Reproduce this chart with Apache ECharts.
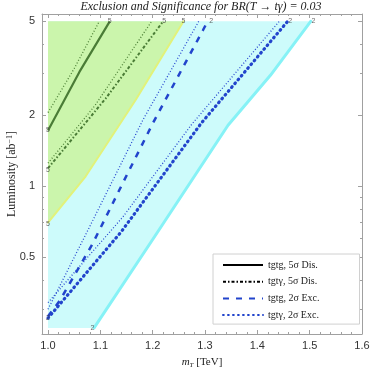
<!DOCTYPE html>
<html>
<head>
<meta charset="utf-8">
<script src="https://cdn.jsdelivr.net/npm/echarts@6/dist/echarts.min.js"></script>
<style>html,body{margin:0;padding:0;background:#fff}#main{width:374px;height:374px}</style>
</head>
<body>
<div id="main"></div>
<script>
// contour curves, [mT (TeV), luminosity (ab^-1)]
const tgtgDis = [[1.0,1.72],[1.06,3.05],[1.118,5.0]];
const tgtgDisDot = [[1.0,2.05],[1.05,3.15],[1.098,5.0]];
const tgtyDis = [[1.0,1.19],[1.11,2.35],[1.22,5.0]];
const tgtyDisDot = [[1.0,1.25],[1.09,2.2],[1.198,5.0]];
const greenEdge = [[1.0,0.70],[1.072,1.10],[1.168,2.33],[1.259,5.0]];
const tgtgExc = [[1.0,0.28],[1.022,0.325],[1.085,0.568],[1.143,1.03],[1.201,1.86],[1.296,4.58],[1.305,5.0]];
const tgtgExcDot = [[1.0,0.30],[1.076,0.648],[1.137,1.21],[1.182,1.92],[1.288,5.0]];
const tgtyExc = [[1.0,0.275],[1.14,0.64],[1.293,1.85],[1.458,5.0]];
const tgtyExcDot = [[1.0,0.32],[1.143,0.739],[1.274,1.82],[1.442,5.0]];
const cyanEdge = [[1.088,0.25],[1.2,0.593],[1.344,1.81],[1.425,2.95],[1.502,5.0]];
const lumTop = 5.0, lumBottom = 0.25, mLeft = 1.0;
// contour level labels [mT, lum, text]
const contourLabels = [
  [1.0,1.72,'5'],[1.118,5.0,'5'],
  [1.0,1.17,'5'],[1.222,5.0,'5'],
  [1.0,0.69,'5'],[1.259,5.0,'5'],
  [1.312,5.0,'2'],[1.463,5.0,'2'],[1.507,5.0,'2'],
  [1.0,0.275,'2'],[1.085,0.25,'2']
];
const xMajor = [1.0,1.1,1.2,1.3,1.4,1.5,1.6];
const xMinor = [1.02,1.04,1.06,1.08,1.12,1.14,1.16,1.18,1.22,1.24,1.26,1.28,1.32,1.34,1.36,1.38,1.42,1.44,1.46,1.48,1.52,1.54,1.56,1.58];
const yMajor = [0.5,1,2,5];
const yMinor = [0.3,0.4,0.6,0.7,0.8,0.9,3,4];
const legendNames = ['tgtg, 5σ Dis.','tgtγ, 5σ Dis.','tgtg, 2σ Exc.','tgtγ, 2σ Exc.'];

const lg = v => Math.log10(v);
const toXY = arr => arr.map(p => [p[0], lg(p[1])]);

const frame = '#a0a0a0';
const labelFont = {color:'#333', fontFamily:'Liberation Sans', fontSize:11};

function xAx(pos, ticks, len, showLine, showLabel) {
  return {
    type:'value', position:pos, min:0.9885, max:1.6,
    axisLine:{show:showLine, onZero:false, lineStyle:{color:frame}},
    axisTick:{show:true, inside:true, length:len, customValues:ticks, lineStyle:{color:frame}},
    axisLabel:{show:showLabel, customValues:xMajor, formatter:v => v.toFixed(1), margin:6, ...labelFont},
    splitLine:{show:false}
  };
}
function yAx(pos, ticks, len, showLine, showLabel) {
  return {
    type:'value', position:pos, min:-0.628, max:0.73,
    axisLine:{show:showLine, onZero:false, lineStyle:{color:frame}},
    axisTick:{show:true, inside:true, length:len, customValues:ticks.map(lg), lineStyle:{color:frame}},
    axisLabel:{show:showLabel, customValues:yMajor.map(lg), formatter:v => String(+Math.pow(10,v).toPrecision(2)), margin:7, ...labelFont},
    splitLine:{show:false}
  };
}

function region(pts, color) {
  return {
    type:'custom', silent:true, z:1, data:[[0,0]],
    renderItem:(params, api) => ({
      type:'polygon',
      shape:{points: pts.map(p => api.coord([p[0], lg(p[1])]))},
      style:{fill:color}
    })
  };
}
function curve(name, data, color, width, type, cap, z) {
  return {
    name, type:'line', data:toXY(data), symbol:'none', symbolSize:0, smooth:false,
    itemStyle:{color}, lineStyle:{color, width, type, cap:cap || 'butt'}, z:z || 3, silent:true
  };
}

const cyanPoly = [[mLeft,lumBottom]].concat(cyanEdge, [[mLeft,lumTop]]);
const greenPoly = greenEdge.concat([[mLeft,lumTop]]);

const chart = echarts.init(document.getElementById('main'));
chart.setOption({
  animation:false,
  title:{text:'Exclusion and Significance for BR(T → tγ) = 0.03', left:201, top:1, padding:0, textAlign:'center',
    textStyle:{fontFamily:'Liberation Serif', fontStyle:'italic', fontWeight:'normal', fontSize:12, color:'#222'}},
  grid:{left:42, right:12, top:14, bottom:40, outerBoundsMode:'none', containLabel:false},
  xAxis:[
    Object.assign(xAx('bottom', xMajor, 4, true, true), {
      name:'{i|m}{s|T} [TeV]', nameLocation:'middle', nameGap:22, nameMoveOverlap:false,
      nameTextStyle:{fontFamily:'Liberation Serif', fontSize:11, color:'#222',
        rich:{i:{fontFamily:'Liberation Serif', fontStyle:'italic', fontSize:11, color:'#222'},
              s:{fontFamily:'Liberation Serif', fontStyle:'italic', fontSize:7, color:'#222', verticalAlign:'bottom', padding:[6,0,0,0]}}}
    }),
    xAx('bottom', xMinor, 2, false, false),
    xAx('top', xMajor, 4, true, false),
    xAx('top', xMinor, 2, false, false)
  ],
  yAxis:[
    Object.assign(yAx('left', yMajor, 4, true, true), {
      name:'Luminosity [ab{p|−1}]', nameLocation:'middle', nameGap:24, nameMoveOverlap:false,
      nameTextStyle:{fontFamily:'Liberation Serif', fontSize:12, color:'#222',
        rich:{p:{fontFamily:'Liberation Serif', fontSize:8, color:'#222', verticalAlign:'top'}}}
    }),
    yAx('left', yMinor, 2, false, false),
    yAx('right', yMajor, 4, true, false),
    yAx('right', yMinor, 2, false, false)
  ],
  legend:{
    data:[
      {name:legendNames[0], lineStyle:{color:'#000'}},
      {name:legendNames[1], lineStyle:{color:'#000'}},
      {name:legendNames[2]},
      {name:legendNames[3]}
    ],
    orient:'vertical', left:213, top:254, itemWidth:40, itemHeight:8, itemGap:6.7,
    padding:[6,40,4,9], backgroundColor:'#fff', borderColor:'#d0d0d0', borderWidth:1, borderRadius:0,
    itemStyle:{opacity:0},
    textStyle:{fontFamily:'Liberation Serif', fontSize:10, color:'#222'}
  },
  series:[
    region(cyanPoly, '#cdfbfb'),
    region(greenPoly, '#cbf5ac'),
    curve('cyanEdge', cyanEdge, '#86f2f6', 3, 'solid', 'round', 2),
    curve('greenEdge', greenEdge, '#e2f27a', 2, 'solid', 'round', 2),
    curve('tgtgDisDot', tgtgDisDot, '#4f8238', 1.3, [1,2]),
    curve(legendNames[0], tgtgDis, '#4a7c36', 2.2, 'solid'),
    curve('tgtyDisDot', tgtyDisDot, '#4f8238', 1.3, [1,2]),
    curve(legendNames[1], tgtyDis, '#4a7c36', 2, [3,2,1.5,2]),
    curve('tgtgExcDot', tgtgExcDot, '#2a48d0', 1.3, [1,2]),
    curve(legendNames[2], tgtgExc, '#2244cc', 2.5, [6,7]),
    curve('tgtyExcDot', tgtyExcDot, '#2a48d0', 1.3, [1,2]),
    curve(legendNames[3], tgtyExc, '#2244cc', 3.2, [0.8,4.2], 'round'),
    {
      type:'scatter', symbolSize:0, silent:true, z:5,
      data:contourLabels.map(d => ({value:[d[0], lg(d[1])], label:{formatter:d[2]}})),
      label:{show:true, position:'inside', color:'#444', fontSize:7, fontFamily:'Liberation Sans'}
    }
  ]
});
</script>
</body>
</html>
